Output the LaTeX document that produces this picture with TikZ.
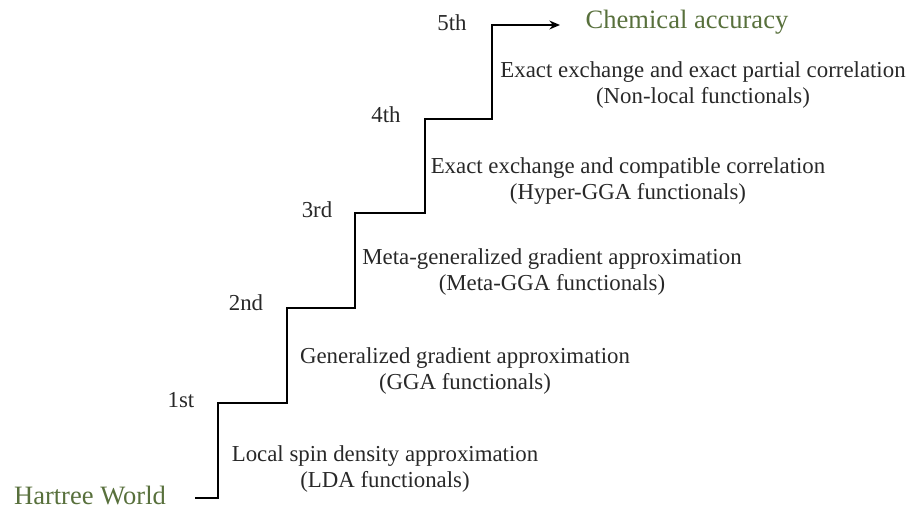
\documentclass[tikz,border=0pt]{standalone}
\usepackage{fontspec}
\setmainfont{Liberation Serif}
\usetikzlibrary{arrows.meta}
\definecolor{rungtext}{RGB}{40,40,40}
\definecolor{hgreen}{RGB}{88,112,60}

\begin{document}
\begin{tikzpicture}[x=0.02cm,y=-0.02cm,every node/.style={inner sep=0pt,text=rungtext},
  rung/.style={font=\fontsize{13}{15}\selectfont},
  desc/.style={align=center,font=\fontsize{13}{14.7}\selectfont},
  goal/.style={font=\fontsize{15.1}{18}\selectfont,text=hgreen}]
\useasboundingbox (0,0) rectangle (907,510);
\coordinate (v0) at (195,498);
\coordinate (v1) at (218,498);
\coordinate (v2) at (218,403);
\coordinate (v3) at (287,403);
\coordinate (v4) at (287,308);
\coordinate (v5) at (355,308);
\coordinate (v6) at (355,213);
\coordinate (v7) at (425,213);
\coordinate (v8) at (425,119);
\coordinate (v9) at (492,119);
\coordinate (v10) at (492,25);
\coordinate (v11) at (560,25);
\draw[line width=1.1pt,-{Stealth[length=6pt,width=5pt]}] (v0)--(v1)--(v2)--(v3)--(v4)--(v5)--(v6)--(v7)--(v8)--(v9)--(v10)--(v11);
\node[goal] (hartree) at (90,495) {Hartree World};
\node[goal] (chem) at (687,22) {Chemical accuracy};
\node[rung] (r1) at (181,400) {1st};
\node[rung] (r2) at (246,303) {2nd};
\node[rung] (r3) at (317,210) {3rd};
\node[rung] (r4) at (386,115) {4th};
\node[rung] (r5) at (452,23) {5th};
\node[desc] (d1) at (385,469) {Local spin density approximation\\(LDA functionals)};
\node[desc] (d2) at (465,371) {Generalized gradient approximation\\(GGA functionals)};
\node[desc] (d3) at (552,272) {Meta-generalized gradient approximation\\(Meta-GGA functionals)};
\node[desc] (d4) at (628,181) {Exact exchange and compatible correlation\\(Hyper-GGA functionals)};
\node[desc] (d5) at (703,85) {Exact exchange and exact partial correlation\\(Non-local functionals)};
\end{tikzpicture}
\end{document}
